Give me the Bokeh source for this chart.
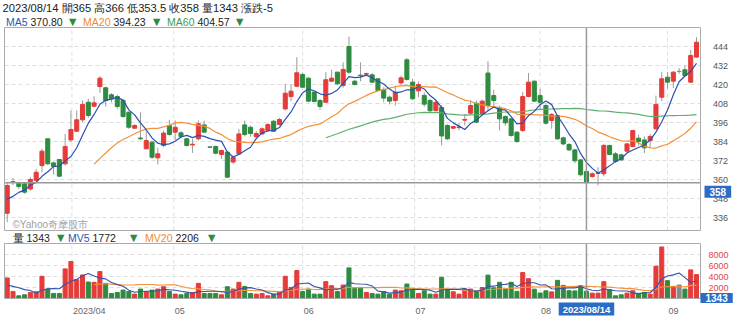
import numpy as np
import pandas as pd
from bokeh.plotting import figure
from bokeh.models import ColumnDataSource, Range1d, Label, LabelSet
from bokeh.embed import file_html
from bokeh.resources import INLINE
from bokeh.core.properties import value

FONT = "Liberation Sans"

# ---------------- data ----------------
start_date = "2023-03-16"
end_date = "2023-09-08"
market_holidays = ["2023-04-03", "2023-04-04", "2023-04-05", "2023-05-01",
                   "2023-06-22", "2023-06-23", "2023-08-03"]

opens = [338.7, 358.3, 357.7, 357.3, 354.0, 359.4, 368.8, 385.7, 370.5, 372.6,
         369.9, 385.0, 390.5, 397.7, 408.8, 406.3, 418.7, 417.9, 413.5, 412.4,
         409.9, 402.5, 392.4, 386.2, 379.4, 383.6, 373.7, 381.5, 394.1, 389.9,
         389.5, 385.7, 381.8, 385.7, 394.5, 380.6, 380.8, 375.8, 377.3, 371.0,
         376.2, 394.5, 393.0, 387.0, 388.8, 391.0, 396.8, 394.7, 404.6, 412.4,
         418.9, 426.3, 424.0, 415.2, 409.9, 408.8, 422.1, 427.8, 419.4, 444.0,
         422.1, 425.9, 426.5, 426.1, 423.6, 416.8, 412.0, 409.9, 421.0, 435.6,
         421.5, 416.0, 413.1, 409.9, 403.6, 405.5, 394.1, 392.4, 392.8, 397.5,
         401.9, 408.2, 401.5, 427.2, 413.0, 405.3, 399.8, 398.3, 389.9, 391.0,
         412.4, 422.1, 413.0, 406.7, 397.3, 400.4, 386.3, 382.1, 378.7, 372.4,
         365.0, 361.9, 363.8, 363.6, 381.5, 376.2, 375.6, 377.9, 380.8, 386.1,
         385.0, 384.6, 392.0, 412.0, 424.6, 422.1, 428.3, 429.3, 421.5, 437.3]
highs = [358.3, 361.0, 358.5, 358.0, 361.5, 366.7, 379.4, 386.0, 371.4, 373.0,
         388.8, 403.6, 403.6, 409.9, 410.9, 412.6, 425.3, 418.7, 414.5, 413.5,
         410.5, 403.0, 395.0, 402.5, 390.9, 384.6, 380.0, 391.0, 397.7, 397.3,
         390.5, 386.3, 385.7, 397.3, 397.3, 380.8, 381.5, 379.0, 377.7, 375.0,
         392.0, 397.3, 394.0, 390.5, 393.0, 395.5, 397.5, 398.9, 420.4, 420.4,
         437.3, 427.4, 424.6, 415.5, 411.0, 427.8, 429.3, 428.0, 434.0, 450.3,
         423.0, 434.0, 427.5, 427.2, 424.0, 418.3, 413.0, 419.4, 425.7, 436.8,
         423.6, 422.0, 415.0, 411.0, 410.0, 407.0, 395.0, 394.0, 395.8, 401.5,
         410.0, 409.9, 410.5, 434.7, 416.6, 406.7, 400.5, 398.5, 390.5, 415.2,
         427.2, 422.5, 417.3, 407.8, 402.0, 401.0, 387.0, 383.0, 379.4, 373.0,
         366.0, 364.6, 367.8, 382.5, 382.0, 377.3, 376.2, 383.0, 391.4, 388.4,
         387.2, 388.8, 413.0, 427.8, 427.8, 428.5, 430.5, 432.0, 441.9, 449.9]
lows = [333.0, 356.5, 354.0, 351.0, 353.0, 358.5, 364.6, 369.0, 363.2, 361.5,
        368.8, 383.6, 390.0, 396.2, 399.0, 405.7, 414.7, 406.0, 408.8, 404.6,
        399.0, 392.0, 392.0, 385.0, 379.0, 373.0, 369.5, 380.4, 387.8, 385.0,
        386.0, 380.8, 376.8, 384.6, 389.3, 380.2, 375.8, 373.0, 361.0, 370.0,
        375.8, 387.2, 387.0, 386.0, 388.0, 390.5, 390.0, 394.0, 403.6, 409.5,
        418.3, 417.9, 408.8, 408.8, 404.0, 408.2, 421.5, 420.0, 418.0, 426.7,
        419.4, 422.0, 425.5, 420.8, 415.8, 408.8, 407.4, 406.7, 419.4, 422.5,
        410.0, 412.0, 406.0, 402.5, 403.0, 381.5, 385.0, 392.0, 391.0, 394.0,
        401.0, 395.6, 400.8, 403.2, 405.9, 391.0, 394.0, 387.0, 383.0, 390.0,
        411.8, 408.8, 404.6, 394.7, 392.0, 385.0, 381.5, 378.0, 370.3, 361.9,
        353.5, 361.0, 356.2, 362.0, 375.2, 370.5, 371.8, 377.0, 380.4, 381.5,
        376.6, 380.4, 391.6, 409.5, 417.3, 417.7, 426.7, 424.6, 421.0, 436.8]
closes = [356.2, 358.6, 355.6, 352.0, 360.0, 364.6, 377.9, 369.9, 368.2, 362.1,
          380.8, 391.6, 397.7, 407.4, 400.4, 408.4, 424.0, 409.9, 411.0, 406.1,
          399.8, 393.0, 394.1, 385.7, 384.6, 374.1, 376.2, 389.3, 388.4, 393.0,
          387.2, 381.5, 382.3, 395.2, 389.9, 380.4, 376.6, 378.3, 361.5, 374.1,
          388.8, 388.4, 389.0, 389.0, 392.0, 394.7, 390.5, 397.9, 414.5, 415.8,
          427.4, 418.3, 409.5, 409.3, 406.1, 423.0, 424.0, 420.4, 429.5, 427.8,
          420.0, 425.5, 426.9, 421.5, 416.2, 411.4, 409.5, 415.2, 424.2, 423.2,
          411.0, 420.0, 407.6, 403.4, 408.8, 387.5, 385.7, 393.4, 393.2, 398.0,
          406.7, 396.2, 409.5, 406.7, 409.9, 398.3, 395.8, 387.8, 384.0, 412.4,
          421.5, 409.5, 408.8, 395.6, 401.1, 385.7, 382.5, 378.7, 371.8, 363.0,
          358.0, 363.6, 364.2, 381.5, 375.8, 371.4, 372.4, 382.5, 390.9, 384.0,
          380.0, 387.2, 407.4, 423.6, 421.5, 427.8, 428.3, 425.7, 438.3, 446.7]
volumes = [3733, 1285, 490, 673, 1100, 1224, 4039, 1714, 918, 918,
           5386, 6732, 3427, 4284, 2999, 2938, 4896, 2754, 918, 1100,
           1530, 1285, 796, 1714, 1224, 1530, 1714, 2142, 1285, 796,
           673, 918, 1100, 2754, 918, 918, 918, 673, 2142, 1714,
           2938, 2203, 918, 796, 918, 490, 796, 1224, 4039, 2020,
           5080, 1285, 1714, 796, 796, 3060, 2326, 1285, 2448, 5569,
           1836, 2020, 1100, 918, 796, 1285, 796, 1530, 1408, 2632,
           1836, 918, 1408, 796, 796, 3856, 1591, 1224, 796, 1714,
           1714, 1300, 2000, 4250, 1950, 2950, 1700, 2950, 1300, 4720,
           3600, 1700, 1000, 1400, 1200, 3300, 2380, 1420, 1380, 2337,
           1343, 979, 979, 3060, 1591, 490, 673, 979, 1408, 918,
           1102, 796, 5875, 9364, 3244, 2203, 2448, 1714, 5202, 4345]
# sessions just before the window (only feed the moving averages)
prior_closes = [350.0, 343.0, 345.0, 344.0]
prior_volumes = [2500, 1800, 2300, 1900]

price_ticks = [336, 348, 360, 372, 384, 396, 408, 420, 432, 444]
volume_ticks = [2000, 4000, 6000, 8000]
month_firsts = ["2023-04-01", "2023-05-01", "2023-06-01", "2023-07-01", "2023-08-01", "2023-09-01"]
month_labels = ["2023/04", "05", "06", "07", "08", "09"]
selected_date = "2023-08-14"
header_ma = [("MA5", "370.80"), ("MA20", "394.23"), ("MA60", "404.57")]
header_mv = [("MV5", "1772"), ("MV20", "2206")]
price_domain = (327.8, 456.0)
volume_domain = (0, 10000)

# ---------------- derived ----------------
dates = pd.bdate_range(start_date, end_date, freq="C", holidays=market_holidays)
n = len(dates)
idx = np.arange(n)
sel = int(np.where(dates == pd.Timestamp(selected_date))[0][0])

RED, GREEN, GRAY = "#e53b39", "#2e8b41", "#8a8a8a"
colors = [RED if c > o else (GREEN if c < o else GRAY) for o, c in zip(opens, closes)]

k = len(prior_closes)
ce = pd.Series(prior_closes + closes, dtype=float)
ve = pd.Series(prior_volumes + volumes, dtype=float)
ma5 = ce.rolling(5).mean().to_numpy()[k:]
ma20 = ce.rolling(20).mean().to_numpy()[k:]
ma60 = ce.rolling(60).mean().to_numpy()[k:]
mv5 = ve.rolling(5).mean().to_numpy()[k:]
mv20 = ve.rolling(20).mean().to_numpy()[k:]

src = ColumnDataSource(dict(
    x=idx, open=opens, high=highs, low=lows, close=closes, vol=volumes,
    top=np.maximum(opens, closes), bottom=np.minimum(opens, closes), color=colors,
    ma5=ma5, ma20=ma20, ma60=ma60, mv5=mv5, mv20=mv20))

month_pos = np.interp(pd.to_datetime(month_firsts).asi8.astype(float),
                      dates.asi8.astype(float), idx.astype(float))

# ---------------- geometry (pixels of the page) ----------------
W, H = 740, 321
PANEL_L, PANEL_R = 4, 700
MAIN_T, MAIN_B = 27, 230
VOL_T, VOL_B = 243, 298
x_domain = (-0.47, n - 1 + 0.69)


def canvas_range_x(d0, d1):
    s = (d1 - d0) / (PANEL_R - PANEL_L)
    return Range1d(d0 - PANEL_L * s, d1 + (W - PANEL_R) * s)


def canvas_range_y(d0, d1, top, bottom):
    s = (d1 - d0) / (bottom - top)
    return Range1d(d0 - (H - bottom) * s, d1 + top * s)


GRID_C, GRID_D = "#dedede", "4 3"
OUTLINE = "#ababab"
CROSS = "#999999"
BOX = "#2c6cc4"
TXT = "#222222"
DOWN = "#2e8b41"

p = figure(width=W, height=H, x_range=canvas_range_x(*x_domain),
           y_range=canvas_range_y(*price_domain, MAIN_T, MAIN_B),
           x_axis_type=None, y_axis_type=None, toolbar_location=None,
           output_backend="svg", min_border=0, outline_line_color=None,
           background_fill_color="white", border_fill_color="white")
p.extra_y_ranges = {"vol": canvas_range_y(*volume_domain, VOL_T, VOL_B)}

x0, x1 = x_domain
# grid lines
p.segment(x0=[x0] * len(price_ticks), x1=[x1] * len(price_ticks), y0=price_ticks, y1=price_ticks,
          line_color=GRID_C, line_dash=GRID_D, line_width=1)
p.segment(x0=month_pos, x1=month_pos, y0=[price_domain[0]] * len(month_pos),
          y1=[price_domain[1]] * len(month_pos), line_color=GRID_C, line_dash=GRID_D, line_width=1)
p.segment(x0=[x0] * len(volume_ticks), x1=[x1] * len(volume_ticks), y0=volume_ticks, y1=volume_ticks,
          line_color=GRID_C, line_dash=GRID_D, line_width=1, y_range_name="vol")
p.segment(x0=month_pos, x1=month_pos, y0=[volume_domain[0]] * len(month_pos),
          y1=[volume_domain[1]] * len(month_pos), line_color=GRID_C, line_dash=GRID_D,
          line_width=1, y_range_name="vol")

# candles
p.segment(x0="x", y0="low", x1="x", y1="high", source=src, line_color="#9a9a9a", line_width=1)
p.vbar(x="x", width=0.7, top="top", bottom="bottom", source=src,
       fill_color="color", line_color="color", line_width=1)
p.line("x", "ma60", source=src, line_color="#5fae6c", line_width=1.2)
p.line("x", "ma20", source=src, line_color="#f3923a", line_width=1.2)
p.line("x", "ma5", source=src, line_color="#2d4fb0", line_width=1.2)

# volume
p.vbar(x="x", width=0.7, top="vol", bottom=0, source=src, fill_color="color",
       line_color="color", line_width=1, y_range_name="vol")
p.line("x", "mv20", source=src, line_color="#f3923a", line_width=1.1, y_range_name="vol")
p.line("x", "mv5", source=src, line_color="#3553ae", line_width=1.1, y_range_name="vol")

# crosshair
p.segment(x0=[sel], x1=[sel], y0=[price_domain[0]], y1=[price_domain[1]], line_color=CROSS, line_width=1.5)
p.segment(x0=[sel], x1=[sel], y0=[volume_domain[0]], y1=[volume_domain[1]], line_color=CROSS,
          line_width=1.5, y_range_name="vol")
p.segment(x0=[x0], x1=[x1], y0=[closes[sel]], y1=[closes[sel]], line_color=CROSS, line_width=1.5)

# panel frames
p.quad(left=[x0], right=[x1], bottom=[price_domain[0]], top=[price_domain[1]],
       fill_color=None, line_color=OUTLINE, line_width=1)
p.quad(left=[x0], right=[x1], bottom=[volume_domain[0]], top=[volume_domain[1]],
       fill_color=None, line_color=OUTLINE, line_width=1, y_range_name="vol")

# tick labels (right side)
p.text(x=[x1] * len(price_ticks), y=price_ticks, text=[str(t) for t in price_ticks],
       x_offset=12.5, text_align="left", text_baseline="middle", text_font=value(FONT),
       text_font_size="9px", text_color="#555555")
p.text(x=[x1] * len(volume_ticks), y=volume_ticks, text=[str(t) for t in volume_ticks],
       x_offset=8, text_align="left", text_baseline="middle", text_font=value(FONT),
       text_font_size="9px", text_color="#e2453f", y_range_name="vol")
# month labels
p.add_layout(LabelSet(x="x", y="y", y_units="screen",
                      source=ColumnDataSource(dict(x=month_pos, text=month_labels,
                                                   y=[H - 310] * len(month_labels))),
                      text="text", x_offset=1, text_align="left", text_baseline="middle",
                      text_font=value(FONT), text_font_size=value("9px"), text_color="#666666"))


def lab(cx, cy, text, color, size="10.5px", align="left", **kw):
    p.add_layout(Label(x=cx, y=H - cy, x_units="screen", y_units="screen", text=text,
                       text_color=color, text_font=FONT, text_font_size=size,
                       text_align=align, text_baseline="middle", **kw))


def legend_item(name, name_color, val, val_x, tri_x, cy):
    # name ends just before the value, value starts at val_x, triangle after
    lab(val_x - 3, cy, name, name_color, align="right")
    lab(val_x, cy, val, TXT)
    lab(tri_x, cy + 0.5, "▼", DOWN, size="12.5px")


fmt = lambda v: f"{v:g}"
line1 = (f"{dates[sel]:%Y/%m/%d} 開{fmt(opens[sel])} 高{fmt(highs[sel])} 低{fmt(lows[sel])} "
         f"收{fmt(closes[sel])} 量{volumes[sel]} 漲跌{fmt(round(closes[sel] - closes[sel - 1], 2))}")
lab(2, 7.5, line1, TXT, size="11.2px")

ma_cols = ["#2d55b5", "#f08a2a", "#3d9a4f"]
for (name, val), col, (vx, tx) in zip(header_ma, ma_cols, [(30, 66), (113, 150), (197, 233)]):
    legend_item(name, col, val, vx, tx, 21)

lab(12, 224, "©Yahoo奇摩股市", "#a0a0a0", size="10px")

legend_item("量", TXT, f"{volumes[sel]}", 26, 54, 237)
for (name, val), col, (vx, tx) in zip(header_mv, ["#2d55b5", "#f08a2a"], [(92, 127), (175, 205)]):
    legend_item(name, col, val, vx, tx, 237)

# crosshair value boxes
p.add_layout(Label(x=704, y=closes[sel], x_units="screen", y_units="data", y_offset=-3,
                   text=fmt(closes[sel]), text_color="white", text_font=FONT,
                   text_font_size="10px", text_font_style="bold", text_align="left",
                   text_baseline="top", background_fill_color=BOX, padding=(5, 2)))
p.add_layout(Label(x=700, y=volumes[sel], x_units="screen", y_units="data", y_range_name="vol",
                   y_offset=-2, text=f"{volumes[sel]}", text_color="white", text_font=FONT,
                   text_font_size="10px", text_font_style="bold", text_align="left",
                   text_baseline="top", background_fill_color=BOX, padding=(5, 1)))
p.add_layout(Label(x=sel, y=H - 302, x_units="data", y_units="screen",
                   text=f"{dates[sel]:%Y/%m/%d}", text_color="white", text_font=FONT,
                   text_font_size="9.5px", text_font_style="bold", text_align="center",
                   text_baseline="top", background_fill_color=BOX, padding=(4, 1)))

open("out.html", "w").write(file_html(p, INLINE))
